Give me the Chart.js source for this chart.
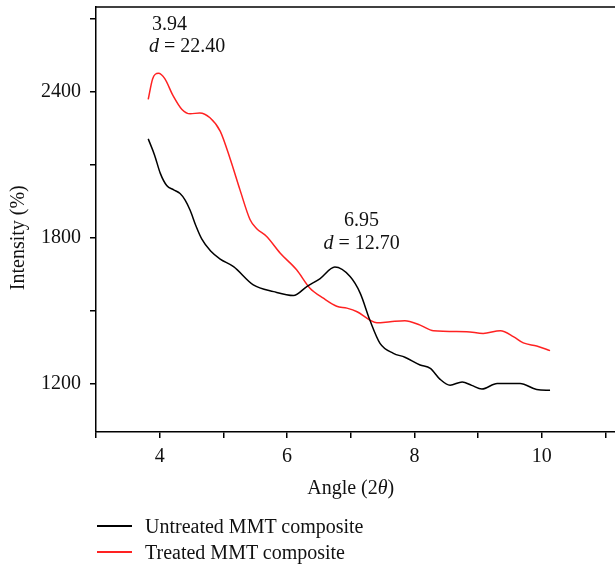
<!DOCTYPE html>
<html>
<head>
<meta charset="utf-8">
<script src="https://cdn.jsdelivr.net/npm/chart.js@4.4.1/dist/chart.umd.min.js"></script>
<style>
  body { margin: 0; background: #fff; }
  #wrap { position: relative; width: 615px; height: 565px; }
  canvas { display: block; }
  .leg { position: absolute; left: 97px; font: 20px "Liberation Serif", serif; color: #111; }
  .leg-line { position: absolute; left: 0; width: 35px; height: 2px; }
  .leg-text { position: absolute; left: 48px; white-space: nowrap; line-height: 20px; top: -10px; }
</style>
</head>
<body>
<div id="wrap">
  <canvas id="xrdChart" width="615" height="565"></canvas>
  <div class="leg" style="top:526px"><div class="leg-line" style="background:#000;top:-1px"></div><div class="leg-text">Untreated MMT composite</div></div>
  <div class="leg" style="top:552px"><div class="leg-line" style="background:#f22;top:-1px"></div><div class="leg-text">Treated MMT composite</div></div>
</div>
<script>
// values
const untreatedAngle = [3.82, 3.92, 4.01, 4.11, 4.22, 4.32, 4.40, 4.48, 4.57, 4.66, 4.80, 4.95, 5.16, 5.47, 5.79, 6.10, 6.31, 6.52, 6.75, 6.99, 7.15, 7.30, 7.46, 7.67, 7.85, 8.09, 8.25, 8.40, 8.56, 8.75, 8.90, 9.06, 9.30, 9.66, 9.92, 10.13];
const untreatedIntensity = [2207, 2140, 2065, 2015, 1997, 1982, 1955, 1912, 1848, 1795, 1745, 1712, 1681, 1606, 1578, 1562, 1599, 1632, 1679, 1640, 1571, 1461, 1365, 1324, 1308, 1276, 1262, 1218, 1193, 1206, 1192, 1177, 1200, 1200, 1175, 1172];

const treatedAngle = [3.82, 3.89, 3.98, 4.08, 4.21, 4.35, 4.48, 4.63, 4.79, 4.95, 5.11, 5.26, 5.42, 5.52, 5.68, 5.89, 6.15, 6.36, 6.57, 6.78, 6.94, 7.10, 7.30, 7.41, 7.62, 7.85, 8.09, 8.30, 8.82, 9.08, 9.35, 9.56, 9.71, 9.92, 10.13];
const treatedIntensity = [2370, 2455, 2477, 2455, 2385, 2328, 2310, 2314, 2294, 2239, 2122, 1998, 1874, 1838, 1805, 1737, 1668, 1592, 1551, 1518, 1510, 1495, 1461, 1450, 1454, 1458, 1440, 1417, 1413, 1406, 1417, 1392, 1367, 1354, 1335];

const xTicks = [3, 4, 5, 6, 7, 8, 9, 10, 11];
const xTickLabels = [4, 6, 8, 10];
const yTicks = [1200, 1500, 1800, 2100, 2400, 2700];
const yTickLabels = [1200, 1800, 2400];

const peakNotes = [
  { x: 4.155, y: 2675, parts: [['3.94', false]] },
  { x: 4.43, y: 2588, parts: [['d', true], [' = 22.40', false]] },
  { x: 7.17, y: 1870, parts: [['6.95', false]] },
  { x: 7.17, y: 1775, parts: [['d', true], [' = 12.70', false]] },
];

const serif = '"Liberation Serif", "DejaVu Serif", serif';
const fontN = '20px ' + serif;
const fontI = 'italic 20px ' + serif;

function pts(xs, ys) { return xs.map((x, i) => ({ x, y: ys[i] })); }

// draws mixed upright/italic text centered at cx
function drawParts(ctx, parts, cx, cy) {
  let w = 0;
  parts.forEach(p => { ctx.font = p[1] ? fontI : fontN; w += ctx.measureText(p[0]).width; });
  let x = cx - w / 2;
  parts.forEach(p => {
    ctx.font = p[1] ? fontI : fontN;
    ctx.fillText(p[0], x, cy);
    x += ctx.measureText(p[0]).width;
  });
}

const extras = {
  id: 'extras',
  afterDraw(chart) {
    const { ctx, chartArea: a, scales: { x, y } } = chart;
    ctx.save();
    // top frame line
    ctx.strokeStyle = '#000';
    ctx.lineWidth = 1.5;
    ctx.beginPath();
    ctx.moveTo(a.left, a.top);
    ctx.lineTo(a.right, a.top);
    ctx.stroke();

    ctx.fillStyle = '#111';
    ctx.textAlign = 'left';
    ctx.textBaseline = 'middle';
    peakNotes.forEach(n => drawParts(ctx, n.parts, x.getPixelForValue(n.x), y.getPixelForValue(n.y)));

    // x title
    drawParts(ctx, [['Angle (2', false], ['θ', true], [')', false]], x.getPixelForValue(7), 489);

    // y title
    ctx.translate(19, y.getPixelForValue(1800));
    ctx.rotate(-Math.PI / 2);
    drawParts(ctx, [['Intensity (%)', false]], 0, 0);
    ctx.restore();
  }
};

new Chart(document.getElementById('xrdChart'), {
  type: 'line',
  data: {
    datasets: [
      { label: 'Untreated MMT composite', data: pts(untreatedAngle, untreatedIntensity), borderColor: '#000', borderWidth: 1.5, pointRadius: 0, cubicInterpolationMode: 'monotone', fill: false },
      { label: 'Treated MMT composite', data: pts(treatedAngle, treatedIntensity), borderColor: '#f22', borderWidth: 1.5, pointRadius: 0, cubicInterpolationMode: 'monotone', fill: false },
    ],
  },
  options: {
    responsive: false, animation: false,
    layout: { padding: { top: 7, right: 0, left: 0, bottom: 0 } },
    plugins: { legend: { display: false }, tooltip: { enabled: false } },
    scales: {
      x: {
        type: 'linear', min: 3, max: 11.15,
        afterBuildTicks: s => { s.ticks = xTicks.map(v => ({ value: v })); },
        afterFit: s => { s.height = 133; s.paddingLeft = 0; s.paddingRight = 0; },
        ticks: {
          autoSkip: false, maxRotation: 0, padding: 7,
          color: '#111', font: { family: serif, size: 20 },
          callback: v => xTickLabels.includes(v) ? v : '',
        },
        grid: { drawOnChartArea: false, drawTicks: true, tickLength: 6, color: '#000', lineWidth: 1.5 },
        border: { color: '#000', width: 1.5 },
      },
      y: {
        type: 'linear', min: 1000, max: 2750,
        afterBuildTicks: s => { s.ticks = yTicks.map(v => ({ value: v })); },
        afterFit: s => { s.width = 96; s.paddingTop = 0; s.paddingBottom = 0; },
        ticks: {
          autoSkip: false, padding: 9,
          color: '#111', font: { family: serif, size: 20 },
          callback: v => yTickLabels.includes(v) ? v : '',
        },
        grid: { drawOnChartArea: false, drawTicks: true, tickLength: 6, color: '#000', lineWidth: 1.5 },
        border: { color: '#000', width: 1.5 },
      },
    },
  },
  plugins: [extras],
});
</script>
</body>
</html>
